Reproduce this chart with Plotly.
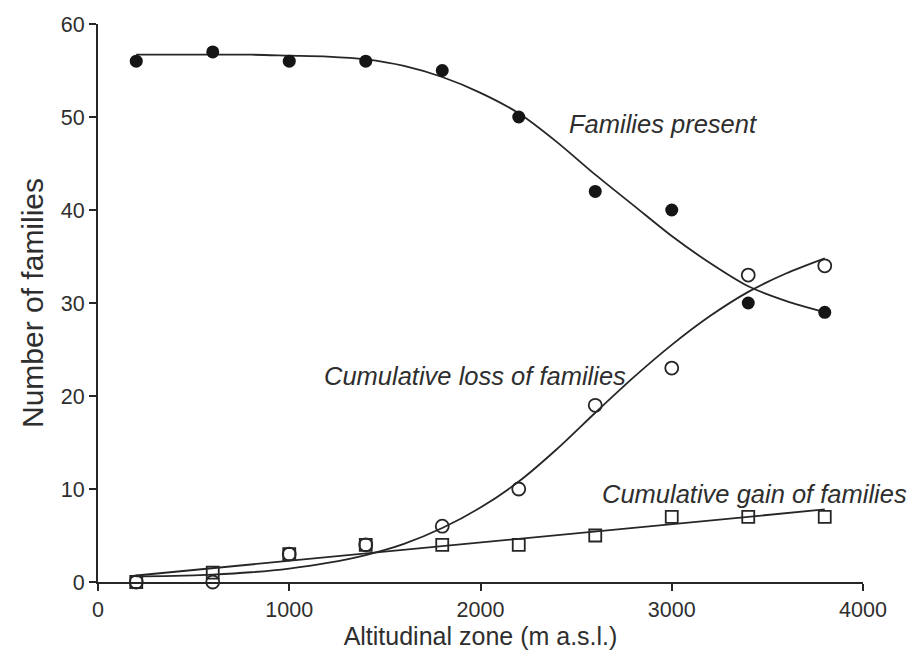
import plotly.graph_objects as go

# Observed data
altitude = [200, 600, 1000, 1400, 1800, 2200, 2600, 3000, 3400, 3800]
families_present = [56, 57, 56, 56, 55, 50, 42, 40, 30, 29]
cumulative_loss = [0, 0, 3, 4, 6, 10, 19, 23, 33, 34]
cumulative_gain = [0, 1, 3, 4, 4, 4, 5, 7, 7, 7]

# Fitted curves
fit_x = [200, 400, 600, 800, 1000, 1200, 1400, 1600, 1800, 2000,
         2200, 2400, 2600, 2800, 3000, 3200, 3400, 3600, 3800]
present_fit = [56.7, 56.7, 56.7, 56.7, 56.6, 56.5, 56.2, 55.5, 54.3, 52.6,
               50.4, 47.3, 43.8, 40.5, 37.2, 34.3, 31.8, 30.2, 29.0]
loss_fit = [0.6, 0.65, 0.8, 1.05, 1.45, 2.05, 2.9, 4.1, 5.8, 8.0,
            10.8, 14.3, 18.2, 22.0, 25.5, 28.6, 31.2, 33.2, 34.8]
gain_fit_x = [200, 3800]
gain_fit = [0.7, 7.8]

x_ticks = [0, 1000, 2000, 3000, 4000]
y_ticks = [0, 10, 20, 30, 40, 50, 60]

ink = "#262626"
text_col = "#2e2e2e"
font_family = "Liberation Sans, Arial, Helvetica, sans-serif"

fig = go.Figure()

for fx, fy in [(fit_x, present_fit), (fit_x, loss_fit), (gain_fit_x, gain_fit)]:
    fig.add_trace(go.Scatter(x=fx, y=fy, mode="lines",
                             line=dict(color=ink, width=1.8, shape="spline", smoothing=0.8),
                             hoverinfo="skip", showlegend=False, cliponaxis=False))

fig.add_trace(go.Scatter(x=altitude, y=cumulative_gain, mode="markers",
                         marker=dict(symbol="square-open", size=12, color=ink,
                                     line=dict(width=1.8, color=ink)),
                         showlegend=False, cliponaxis=False))
fig.add_trace(go.Scatter(x=altitude, y=cumulative_loss, mode="markers",
                         marker=dict(symbol="circle-open", size=13, color=ink,
                                     line=dict(width=1.8, color=ink)),
                         showlegend=False, cliponaxis=False))
fig.add_trace(go.Scatter(x=altitude, y=families_present, mode="markers",
                         marker=dict(symbol="circle", size=13, color="#151515"),
                         showlegend=False, cliponaxis=False))

annots = [
    ("Families present", 2452, 49.2),
    ("Cumulative loss of families", 1171, 22.1),
    ("Cumulative gain of families", 2625, 9.45),
]
for text, ax_, ay_ in annots:
    fig.add_annotation(x=ax_, y=ay_, text="<i>" + text + "</i>", showarrow=False,
                       xanchor="left", yanchor="middle",
                       font=dict(family=font_family, size=25.5, color=text_col))

fig.update_layout(
    width=909, height=663,
    margin=dict(l=98, r=46, t=24, b=81),
    paper_bgcolor="white", plot_bgcolor="white",
    font=dict(family=font_family, color=text_col),
    showlegend=False,
)
fig.update_xaxes(range=[0, 4000], tickvals=x_ticks, ticks="outside", ticklen=7,
                 tickwidth=2, tickcolor=ink, showline=True, linecolor=ink, linewidth=2,
                 showgrid=False, zeroline=False, tickfont=dict(size=21.5, color=text_col),
                 title=dict(text="Altitudinal zone (m a.s.l.)", font=dict(size=25, color=text_col),
                            standoff=6))
fig.update_yaxes(range=[0, 60], tickvals=y_ticks, ticks="outside", ticklen=7,
                 tickwidth=2, tickcolor=ink, showline=True, linecolor=ink, linewidth=2,
                 showgrid=False, zeroline=False, tickfont=dict(size=21.5, color=text_col),
                 title=dict(text="Number of families", font=dict(size=30, color=text_col),
                            standoff=8))

fig.write_html("out.html")
